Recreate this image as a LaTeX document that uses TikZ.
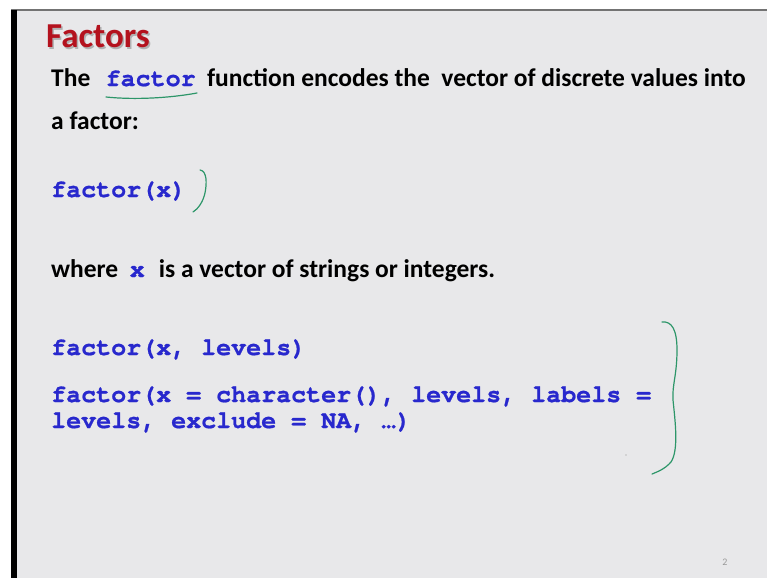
\documentclass[tikz,border=0pt]{standalone}
\usepackage{fontspec}
\setmainfont{Carlito}
\setmonofont{TeX Gyre Cursor}[BoldFeatures={FakeBold=0.8}]
\usepackage{tikz}
\usetikzlibrary{positioning}

\definecolor{slidebg}{RGB}{232,232,234}
\definecolor{titlered}{RGB}{180,18,30}
\definecolor{codeblue}{RGB}{40,40,205}
\definecolor{penGreen}{RGB}{45,150,105}
\newcommand{\rcode}[1]{{\ttfamily\bfseries\fontsize{25}{26}\selectfont\color{codeblue}#1}}

\begin{document}
\begin{tikzpicture}[x=1pt,y=-1pt,
    txt/.style={anchor=base west, inner sep=0pt, font=\bfseries\fontsize{25.5}{28}\selectfont},
    cd/.style={anchor=base west, inner sep=0pt, font=\ttfamily\bfseries\fontsize{25}{26}\selectfont, text=codeblue},
    heading/.style={anchor=base west, inner sep=0pt, font=\bfseries\fontsize{35}{38}\selectfont},
    pen/.style={draw=penGreen, line width=1.2pt, line cap=round}]
      \def \lm {51} % left margin of the text

      % slide frame
      \useasboundingbox (0,0) rectangle (767,578);
      \fill[white] (0,0) rectangle (767,578);
      \fill[slidebg] (11,10) rectangle (767,578);
      \draw[black!55, line width=1.5pt] (11,10) -- (767,10);
      \fill[black] (11,10) rectangle (17,578);

      \node[heading, text=black!45, opacity=0.6] (titleshadow) at (47.5,49.5) {Factors};
      \node[heading, text=titlered] (title) at (46,48) {Factors};

      \node[txt] (intro) at (\lm,86) {The\hspace{0.6em}\rcode{factor}\hspace{0.45em}function encodes the \ vector of discrete values into};
      \node[txt] (intro2) at (\lm,129) {a factor:};
      \node[cd] (call1) at (\lm,197) {factor(x)};
      \node[txt] (where) at (\lm,277) {where\hspace{0.45em}\rcode{x}\hspace{0.55em}is a vector of strings or integers.};
      \node[cd] (call2) at (\lm,355) {factor(x, levels)};
      \node[cd] (call3) at (\lm,402) {factor(x = character(), levels, labels =};
      \node[cd] (call3b) at (\lm,428) {levels, exclude = NA, \ldots)};

      \node[inner sep=0pt, text=black!40, font=\fontsize{10}{12}\selectfont] (page) at (725,562) {2};

      % pen marks
      \draw[pen] (106,97) .. controls (135,100) and (170,98) .. (197,93);
      \draw[pen] (200,170) .. controls (207,171) and (207,183) .. (205,193)
        .. controls (203,202) and (198,209) .. (193,212);
      \draw[pen] (662,322) .. controls (672,321) and (677,330) .. (677,350)
        .. controls (677,375) and (672,385) .. (673,400)
        .. controls (675,420) and (679,450) .. (671,462)
        .. controls (665,469) and (657,472) .. (652,474);
      \fill[black!25] (626,455) circle (0.8);
\end{tikzpicture}
\end{document}
